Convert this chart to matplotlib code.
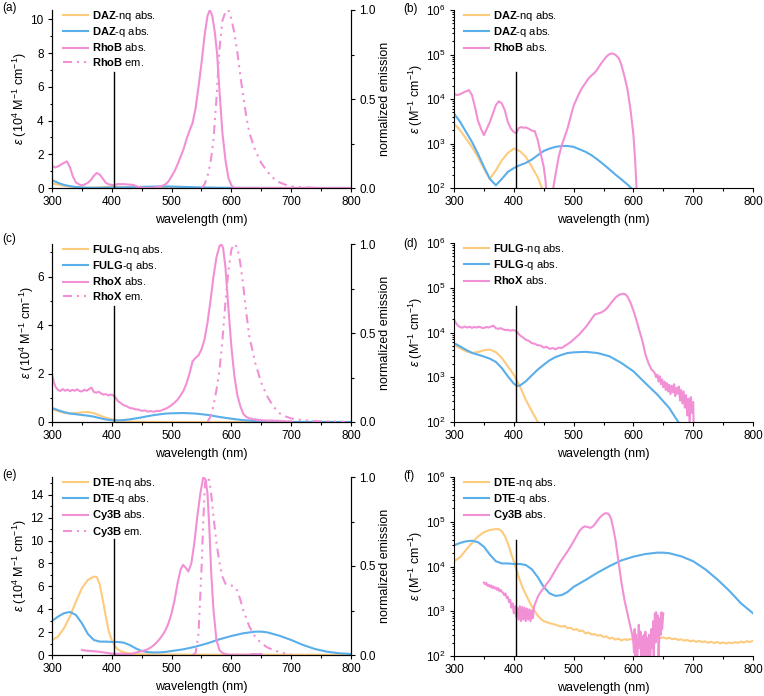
import matplotlib
matplotlib.use('Agg')
import matplotlib.pyplot as plt
import numpy as np
from matplotlib.ticker import MultipleLocator, LogLocator, NullFormatter, FormatStrFormatter

plt.rcParams['font.family'] = ['Liberation Sans', 'DejaVu Sans']
plt.rcParams['mathtext.fontset'] = 'custom'
plt.rcParams['mathtext.rm'] = 'Liberation Sans'
plt.rcParams['mathtext.it'] = 'Liberation Sans:italic'
plt.rcParams['mathtext.bf'] = 'Liberation Sans:bold'
plt.rcParams['font.size'] = 8

ORANGE = '#FDCB7E'
BLUE = '#5AAEEA'
PINK = '#F290D6'

# ---------------- DAZ / RhoB  (eps in M-1 cm-1) ----------------
daz_nq_wl = [300, 310, 320, 330, 340, 350, 360, 370, 380, 390, 400, 410, 420, 430, 440, 447, 455, 470, 500, 600, 700, 800]
daz_nq = [2800, 2000, 1300, 840, 500, 270, 160, 250, 420, 610, 770, 680, 500, 300, 175, 100, 60, 30, 15, 8, 5, 3]

daz_q_wl = [300, 310, 320, 330, 340, 350, 360, 370, 380, 390, 400, 410, 420, 430, 440, 450, 460, 470, 480, 490,
            500, 510, 520, 530, 540, 550, 560, 570, 580, 590, 600, 650, 700, 800]
daz_q = [4700, 3100, 1830, 1090, 590, 300, 160, 115, 160, 230, 280, 325, 365, 435, 545, 680, 770, 840, 880, 880,
         840, 740, 650, 545, 435, 340, 262, 200, 156, 120, 90, 30, 10, 5]

rhob_wl = [300, 305, 310, 318, 325, 330, 335, 340, 345, 350, 355, 360, 365, 370, 375, 380, 385, 390, 395, 400,
           404, 408, 412, 416, 420, 425, 430, 435, 440, 445, 450, 453, 456, 460, 466, 470, 475, 480, 485, 490,
           495, 500, 505, 510, 515, 520, 525, 530, 535, 540, 545, 550, 555, 560, 564, 568, 572, 576, 580, 585,
           590, 595, 600, 603, 606, 610, 700, 800]
rhob_abs = [13200, 12200, 12800, 14500, 15800, 12300, 6700, 3300, 2160, 1540, 2160, 3050, 4700, 7300, 8900, 7900,
            5600, 3050, 2160, 1820, 1700, 2200, 2350, 2250, 2300, 2150, 1950, 1900, 1200, 590, 300, 150, 40, 20,
            100, 210, 500, 900, 1400, 2200, 4000, 7000, 10000, 14000, 18500, 23000, 29000, 34000, 38500, 47000,
            60000, 74000, 90000, 102000, 105500, 102000, 93000, 80000, 58000, 32500, 16800, 6000, 1600, 400, 60,
            20, 10, 5]

rhob_em_wl = [550, 555, 560, 565, 570, 575, 580, 585, 590, 595, 600, 605, 610, 615, 620, 625, 630, 640, 650, 660,
              670, 680, 690, 700, 720, 740, 750]
rhob_em = [0, 0.02, 0.065, 0.14, 0.27, 0.5, 0.78, 0.94, 0.99, 1.0, 0.95, 0.87, 0.76, 0.63, 0.51, 0.40, 0.31, 0.21,
           0.14, 0.093, 0.056, 0.032, 0.019, 0.009, 0.004, 0.001, 0]

# ---------------- FULG / RhoX ----------------
fulg_nq_wl = [300, 310, 320, 330, 340, 350, 360, 370, 380, 390, 400, 410, 420, 430, 437, 440, 450, 470, 500, 600, 700, 800]
fulg_nq = [5400, 4500, 3800, 3500, 3660, 4000, 4150, 3650, 2700, 1750, 1140, 630, 315, 175, 120, 100, 50, 25, 12, 6, 4, 3]

fulg_q_wl = [300, 310, 320, 330, 340, 350, 360, 370, 380, 390, 400, 405, 410, 420, 430, 440, 450, 460, 470, 480,
             490, 500, 520, 540, 560, 580, 600, 620, 640, 660, 675, 690, 720, 800]
fulg_q = [5800, 4900, 4100, 3500, 3200, 2900, 2600, 2200, 1600, 1050, 720, 640, 650, 810, 1100, 1480, 1900, 2400,
          2830, 3170, 3480, 3600, 3700, 3480, 2940, 2080, 1360, 740, 410, 205, 100, 60, 30, 10]

rhox_wl = [300, 303, 306, 310, 314, 318, 322, 326, 330, 334, 338, 342, 346, 350, 354, 358, 362, 366, 370, 374,
           378, 382, 386, 390, 394, 398, 402, 406, 410, 415, 420, 425, 430, 435, 440, 445, 450, 455, 460, 465,
           470, 475, 480, 485, 490, 495, 500, 505, 510, 515, 520, 525, 530, 535, 540, 545, 550, 555, 560, 565,
           570, 575, 580, 583, 586, 590, 595, 600, 605, 610, 615, 620, 625, 630, 635, 638, 640, 642, 644, 646,
           648, 650, 652, 654, 656, 658, 660, 662, 664, 666, 668, 670, 672, 674, 676, 678, 680, 682, 684, 686,
           688, 690, 692, 694, 696, 698, 700, 701]
rhox_abs = [19500, 16500, 14500, 13200, 12800, 13600, 12900, 13400, 12700, 13300, 12900, 13500, 12800, 12600, 13300,
            12900, 13600, 14200, 12400, 12100, 12500, 11800, 11300, 11500, 11000, 11300, 11100, 10100, 8700, 7800,
            6900, 6500, 5800, 5600, 5200, 5100, 4600, 4800, 4300, 4500, 4200, 4600, 4500, 5000, 5500, 6100, 7000,
            8000, 9200, 11000, 13000, 16000, 20000, 25000, 26500, 27500, 30000, 34000, 41000, 50000, 60000, 68000,
            72500, 73500, 72000, 64000, 47000, 31000, 19000, 11000, 6500, 3300, 2100, 1500, 1300, 1000, 1150, 800,
            1050, 700, 900, 600, 800, 520, 740, 480, 680, 420, 640, 460, 700, 380, 580, 430, 620, 300, 520, 260,
            480, 210, 400, 140, 330, 95, 360, 160, 280, 50]

rhox_em_wl = [560, 565, 570, 575, 580, 585, 590, 595, 600, 605, 610, 615, 620, 625, 630, 640, 650, 660, 670, 680,
              690, 700, 720, 740, 760, 780, 790]
rhox_em = [0, 0.03, 0.09, 0.18, 0.29, 0.46, 0.67, 0.85, 0.97, 1.0, 0.98, 0.89, 0.76, 0.61, 0.48, 0.33, 0.22, 0.144,
           0.088, 0.05, 0.032, 0.02, 0.01, 0.005, 0.003, 0.002, 0]

# ---------------- DTE / Cy3B ----------------
dte_nq_wl = [300, 310, 320, 330, 340, 350, 360, 370, 375, 380, 385, 390, 395, 400, 405, 410, 415, 420, 425, 430,
             435, 440, 445, 450, 455, 460, 465, 470, 475, 480, 485, 490, 495, 500, 505, 510, 515, 520, 525, 530,
             535, 540, 545, 550, 555, 560, 565, 570, 575, 580, 585, 590, 595, 600, 605, 610, 615, 620, 625, 630,
             635, 640, 645, 650, 655, 660, 665, 670, 675, 680, 685, 690, 695, 700, 705, 710, 715, 720, 725, 730,
             735, 740, 745, 750, 755, 760, 765, 770, 775, 780, 785, 790, 795, 800]
dte_nq = [13100, 16000, 23300, 33500, 46700, 58300, 65600, 68500, 68000, 61200, 48000, 33500, 20400, 13000, 8000,
          5000, 3300, 2400, 1750, 1300, 1000, 800, 680, 600, 570, 540, 520, 500, 470, 455, 470, 420, 430, 385, 400,
          360, 370, 320, 335, 300, 310, 285, 295, 265, 275, 245, 255, 232, 245, 222, 238, 228, 240, 232, 248, 238,
          255, 258, 245, 270, 255, 268, 250, 262, 245, 255, 238, 245, 228, 236, 220, 230, 212, 222, 208, 218, 205,
          212, 198, 208, 195, 205, 192, 202, 190, 200, 193, 205, 196, 210, 200, 215, 205, 220]

dte_q_wl = [300, 310, 320, 330, 340, 350, 360, 370, 380, 390, 400, 410, 420, 430, 440, 450, 460, 470, 480, 490,
            500, 520, 540, 560, 580, 600, 620, 640, 650, 660, 680, 700, 720, 740, 760, 780, 800]
dte_q = [29700, 33500, 36500, 37600, 35000, 27700, 18400, 13100, 11700, 11700, 11400, 11400, 10800, 8700, 5800,
         3500, 2500, 2200, 2300, 2700, 3500, 5000, 7300, 10200, 13700, 16600, 19000, 20400, 20400, 19800, 16900,
         13100, 8700, 5200, 2900, 1500, 900]

cy3b_wl = [350, 352, 354, 356, 358, 360, 362, 364, 366, 368, 370, 372, 374, 376, 378, 380, 382, 384, 386, 388,
           390, 392, 394, 396, 398, 400, 402, 404, 406, 408, 410, 412, 414, 416, 418, 420, 422, 424, 426, 428,
           430, 432, 434, 436, 440, 445, 450, 455, 460, 465, 470, 475, 480, 485, 490, 495, 500, 505, 510, 515,
           519, 523, 528, 533, 538, 543, 548, 553, 557, 560, 563, 566, 570, 575, 580, 585, 590, 595, 598, 600,
           601, 602, 603, 604, 606, 608, 609, 610, 612, 613, 614, 616, 618, 619, 620, 622, 623, 624, 626, 628,
           630, 632, 633, 634, 636, 637, 638, 640, 641, 642, 644, 646, 647, 648, 650]
cy3b_abs = [4400, 4000, 4300, 3700, 3900, 3500, 3800, 3300, 3600, 3200, 3400, 3000, 3300, 2800, 3000, 2700, 2600,
            2300, 2500, 2000, 2100, 1600, 1800, 1200, 1500, 900, 1300, 750, 1200, 650, 1300, 600, 1250, 650, 1200,
            600, 1150, 650, 1100, 600, 1050, 700, 1300, 1500, 2100, 2700, 3300, 4100, 5000, 6500, 8500, 11000,
            14000, 17500, 21900, 28000, 36500, 48000, 62700, 74400, 78700, 76700, 72900, 80000, 97700, 121000,
            141000, 155400, 153000, 141000, 112000, 74400, 39400, 13100, 4400, 1800, 900, 450, 300, 200, 120, 400,
            80, 300, 60, 250, 500, 150, 350, 50, 280, 70, 300, 60, 350, 50, 250, 70, 300, 60, 400, 150, 600, 100,
            900, 200, 950, 300, 800, 60, 700, 300, 950, 400, 900]

cy3b_em_wl = [535, 540, 545, 550, 553, 556, 560, 563, 566, 570, 575, 580, 585, 590, 595, 600, 605, 610, 615, 620,
              630, 640, 650, 660, 670, 680, 690, 700]
cy3b_em = [0, 0.01, 0.12, 0.48, 0.76, 0.97, 1.0, 0.98, 0.91, 0.78, 0.63, 0.52, 0.44, 0.40, 0.39, 0.39, 0.385, 0.36,
           0.31, 0.25, 0.16, 0.10, 0.066, 0.043, 0.028, 0.017, 0.009, 0.002]

EM_STYLE = (0, (4.3, 2.4, 1, 2.4, 1, 2.4))
LW = 1.5
MARK = 404
TICK_FS = 8.5

fig = plt.figure(figsize=(7.64, 6.96), dpi=100)
W, H = 764, 696


def box(l, t, w, h):
    return [l / W, 1 - (t + h) / H, w / W, h / H]


def style_ticks(ax):
    ax.tick_params(which='major', length=3, width=0.8, labelsize=TICK_FS, pad=3)
    ax.tick_params(which='minor', length=1.8, width=0.8)


def style_x(ax):
    ax.set_xlim(300, 800)
    ax.xaxis.set_major_locator(MultipleLocator(100))
    ax.xaxis.set_minor_locator(MultipleLocator(50))
    ax.set_xlabel('wavelength (nm)', fontsize=9, labelpad=4)
    style_ticks(ax)


def lin_panel(rect, series, em_wl, em_val, top, labels):
    ax = fig.add_axes(box(*rect))
    for (wl, eps), c, lab in zip(series, [ORANGE, BLUE, PINK], labels[:3]):
        ax.plot(wl, np.array(eps) / 1e4, color=c, lw=LW, label=lab)
    ax.axvline(MARK, ymax=0.65, color='k', lw=1)
    ax.set_ylim(0, top)
    ax.yaxis.set_major_locator(MultipleLocator(2))
    ax.yaxis.set_minor_locator(MultipleLocator(1))
    ax.set_ylabel(r'$\varepsilon$ (10$^4$ M$^{-1}$ cm$^{-1}$)', fontsize=9, labelpad=1)
    style_x(ax)
    ax2 = ax.twinx()
    ax2.plot(em_wl, em_val, color=PINK, lw=LW, ls=EM_STYLE, label=labels[3])
    ax2.set_ylim(0, 1)
    ax2.yaxis.set_major_locator(MultipleLocator(0.5))
    ax2.yaxis.set_minor_locator(MultipleLocator(0.25))
    ax2.yaxis.set_major_formatter(FormatStrFormatter('%.1f'))
    ax2.set_ylabel('normalized emission', fontsize=9, labelpad=2)
    style_ticks(ax2)
    for a in (ax, ax2):
        a.spines['top'].set_visible(False)
        for s in a.spines.values():
            s.set_linewidth(0.8)
    h1, l1 = ax.get_legend_handles_labels()
    h2, l2 = ax2.get_legend_handles_labels()
    ax2.legend(h1 + h2, l1 + l2, loc='upper left', bbox_to_anchor=(0.036, 1.008), frameon=False,
               borderpad=0, borderaxespad=0, handlelength=2.25, handletextpad=0.35, labelspacing=0.22,
               fontsize=8)


def log_panel(rect, series, labels):
    ax = fig.add_axes(box(*rect))
    for (wl, eps), c, lab in zip(series, [ORANGE, BLUE, PINK], labels):
        ax.plot(wl, eps, color=c, lw=LW, label=lab)
    ax.axvline(MARK, ymax=0.65, color='k', lw=1)
    ax.set_yscale('log', nonpositive='clip')
    ax.set_ylim(1e2, 1e6)
    ax.yaxis.set_major_locator(LogLocator(base=10))
    ax.yaxis.set_minor_locator(LogLocator(base=10, subs=np.arange(2, 10)))
    ax.yaxis.set_minor_formatter(NullFormatter())
    ax.set_ylabel(r'$\varepsilon$ (M$^{-1}$ cm$^{-1}$)', fontsize=9, labelpad=0.5)
    style_x(ax)
    ax.spines['top'].set_visible(False)
    ax.spines['right'].set_visible(False)
    for s in ax.spines.values():
        s.set_linewidth(0.8)
    ax.legend(loc='upper left', bbox_to_anchor=(0.034, 1.008), frameon=False, borderpad=0, borderaxespad=0,
              handlelength=2.25, handletextpad=0.35, labelspacing=0.22, fontsize=8)


daz_lab = [r'$\mathbf{DAZ}$-nq abs.', r'$\mathbf{DAZ}$-q abs.', r'$\mathbf{RhoB}$ abs.', r'$\mathbf{RhoB}$ em.']
fulg_lab = [r'$\mathbf{FULG}$-nq abs.', r'$\mathbf{FULG}$-q abs.', r'$\mathbf{RhoX}$ abs.', r'$\mathbf{RhoX}$ em.']
dte_lab = [r'$\mathbf{DTE}$-nq abs.', r'$\mathbf{DTE}$-q abs.', r'$\mathbf{Cy3B}$ abs.', r'$\mathbf{Cy3B}$ em.']

daz_series = [(daz_nq_wl, daz_nq), (daz_q_wl, daz_q), (rhob_wl, rhob_abs)]
fulg_series = [(fulg_nq_wl, fulg_nq), (fulg_q_wl, fulg_q), (rhox_wl, rhox_abs)]
dte_series = [(dte_nq_wl, dte_nq), (dte_q_wl, dte_q), (cy3b_wl, cy3b_abs)]

lin_panel((52, 10, 299, 178), daz_series, rhob_em_wl, rhob_em, 10.55, daz_lab)
log_panel((454, 10, 299, 178), daz_series, daz_lab[:3])
lin_panel((52, 244, 299, 178), fulg_series, rhox_em_wl, rhox_em, 7.35, fulg_lab)
log_panel((454, 243, 299, 179), fulg_series, fulg_lab[:3])
lin_panel((52, 477, 299, 178), dte_series, cy3b_em_wl, cy3b_em, 15.55, dte_lab)
log_panel((454, 477, 299, 179), dte_series, dte_lab[:3])

for txt, x, y in [('(a)', 2, 2), ('(b)', 403, 3), ('(c)', 2, 233), ('(d)', 403, 238), ('(e)', 2, 469), ('(f)', 403, 470)]:
    fig.text(x / W, 1 - y / H, txt, ha='left', va='top', fontsize=8.5)

fig.savefig('out.png', dpi=100)
